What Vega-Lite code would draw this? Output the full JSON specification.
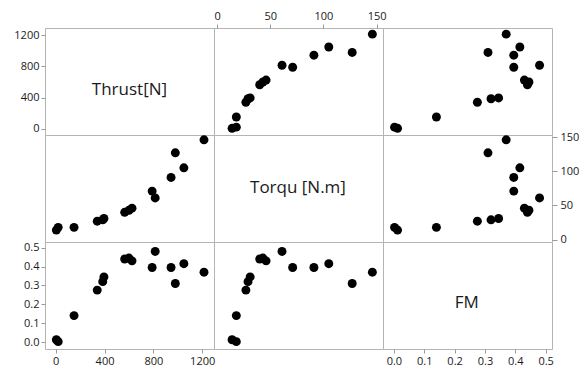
{
  "$schema": "https://vega.github.io/schema/vega-lite/v6.json",
  "background": "white",
  "padding": {"left": 13, "top": 9, "right": 5, "bottom": 5},
  "data": {"values": [
    {"Thrust": 5, "Torque": 14, "FM": 0.012},
    {"Thrust": 20, "Torque": 18, "FM": 0.002},
    {"Thrust": 150, "Torque": 18, "FM": 0.14},
    {"Thrust": 340, "Torque": 27, "FM": 0.275},
    {"Thrust": 385, "Torque": 29, "FM": 0.32},
    {"Thrust": 395, "Torque": 31, "FM": 0.345},
    {"Thrust": 565, "Torque": 40, "FM": 0.44},
    {"Thrust": 600, "Torque": 43, "FM": 0.445},
    {"Thrust": 625, "Torque": 46, "FM": 0.43},
    {"Thrust": 790, "Torque": 71, "FM": 0.395},
    {"Thrust": 815, "Torque": 61, "FM": 0.48},
    {"Thrust": 945, "Torque": 91, "FM": 0.395},
    {"Thrust": 980, "Torque": 127, "FM": 0.31},
    {"Thrust": 1050, "Torque": 105, "FM": 0.415},
    {"Thrust": 1215, "Torque": 146, "FM": 0.37}
  ]},
  "columns": 3,
  "spacing": 0,
  "bounds": "flush",
  "config": {
    "view": {"stroke": "#b4b4b4", "strokeWidth": 1},
    "axis": {"labelFont": "Open Sans", "labelFontSize": 11, "labelColor": "#1a1a1a", "tickColor": "#999999", "tickSize": 4, "labelPadding": 2, "domain": false, "grid": false, "title": null},
    "point": {"filled": true, "color": "#000000", "size": 80, "opacity": 1},
    "text": {"font": "Open Sans", "fontSize": 17, "color": "#1a1a1a"}
  },
  "concat": [
    {
      "width": 169, "height": 107,
      "data": {"values": [{"label": "Thrust[N]"}]},
      "mark": "text",
      "encoding": {
        "text": {"field": "label"},
        "x": {"datum": 604, "type": "quantitative", "scale": {"domain": [-88, 1297], "nice": false, "zero": false}, "axis": null},
        "y": {"datum": 495, "type": "quantitative", "scale": {"domain": [-81, 1294], "nice": false, "zero": false}, "axis": {"orient": "left", "values": [0, 400, 800, 1200], "format": "d"}}
      }
    },
    {
      "width": 169, "height": 107,
      "mark": "point",
      "encoding": {
        "x": {"field": "Torque", "type": "quantitative", "scale": {"domain": [-3, 156], "nice": false, "zero": false}, "axis": {"orient": "top", "values": [0, 50, 100, 150], "labelPadding": 3}},
        "y": {"field": "Thrust", "type": "quantitative", "scale": {"domain": [-81, 1294], "nice": false, "zero": false}, "axis": null}
      }
    },
    {
      "width": 169, "height": 107,
      "mark": "point",
      "encoding": {
        "x": {"field": "FM", "type": "quantitative", "scale": {"domain": [-0.036, 0.521], "nice": false, "zero": false}, "axis": null},
        "y": {"field": "Thrust", "type": "quantitative", "scale": {"domain": [-81, 1294], "nice": false, "zero": false}, "axis": null}
      }
    },
    {
      "width": 169, "height": 107,
      "mark": "point",
      "encoding": {
        "x": {"field": "Thrust", "type": "quantitative", "scale": {"domain": [-88, 1297], "nice": false, "zero": false}, "axis": null},
        "y": {"field": "Torque", "type": "quantitative", "scale": {"domain": [-3.4, 153], "nice": false, "zero": false}, "axis": null}
      }
    },
    {
      "width": 169, "height": 107,
      "data": {"values": [{"label": "Torqu [N.m]"}]},
      "mark": "text",
      "encoding": {
        "text": {"field": "label"},
        "x": {"datum": 76, "type": "quantitative", "scale": {"domain": [-3, 156], "nice": false, "zero": false}, "axis": null},
        "y": {"datum": 75.6, "type": "quantitative", "scale": {"domain": [-3.4, 153], "nice": false, "zero": false}, "axis": null}
      }
    },
    {
      "width": 169, "height": 107,
      "mark": "point",
      "encoding": {
        "x": {"field": "FM", "type": "quantitative", "scale": {"domain": [-0.036, 0.521], "nice": false, "zero": false}, "axis": null},
        "y": {"field": "Torque", "type": "quantitative", "scale": {"domain": [-3.4, 153], "nice": false, "zero": false}, "axis": {"orient": "right", "values": [0, 50, 100, 150], "tickSize": 5, "labelPadding": 3}}
      }
    },
    {
      "width": 169, "height": 107,
      "mark": "point",
      "encoding": {
        "x": {"field": "Thrust", "type": "quantitative", "scale": {"domain": [-88, 1297], "nice": false, "zero": false}, "axis": {"orient": "bottom", "values": [0, 400, 800, 1200], "format": "d"}},
        "y": {"field": "FM", "type": "quantitative", "scale": {"domain": [-0.037, 0.53], "nice": false, "zero": false}, "axis": {"orient": "left", "values": [0, 0.1, 0.2, 0.3, 0.4, 0.5], "format": ".1f"}}
      }
    },
    {
      "width": 169, "height": 107,
      "mark": "point",
      "encoding": {
        "x": {"field": "Torque", "type": "quantitative", "scale": {"domain": [-3, 156], "nice": false, "zero": false}, "axis": null},
        "y": {"field": "FM", "type": "quantitative", "scale": {"domain": [-0.037, 0.53], "nice": false, "zero": false}, "axis": null}
      }
    },
    {
      "width": 169, "height": 107,
      "data": {"values": [{"label": "FM"}]},
      "mark": "text",
      "encoding": {
        "text": {"field": "label"},
        "x": {"datum": 0.24, "type": "quantitative", "scale": {"domain": [-0.036, 0.521], "nice": false, "zero": false}, "axis": {"orient": "bottom", "values": [0, 0.1, 0.2, 0.3, 0.4, 0.5], "format": ".1f"}},
        "y": {"datum": 0.205, "type": "quantitative", "scale": {"domain": [-0.037, 0.53], "nice": false, "zero": false}, "axis": null}
      }
    }
  ]
}
